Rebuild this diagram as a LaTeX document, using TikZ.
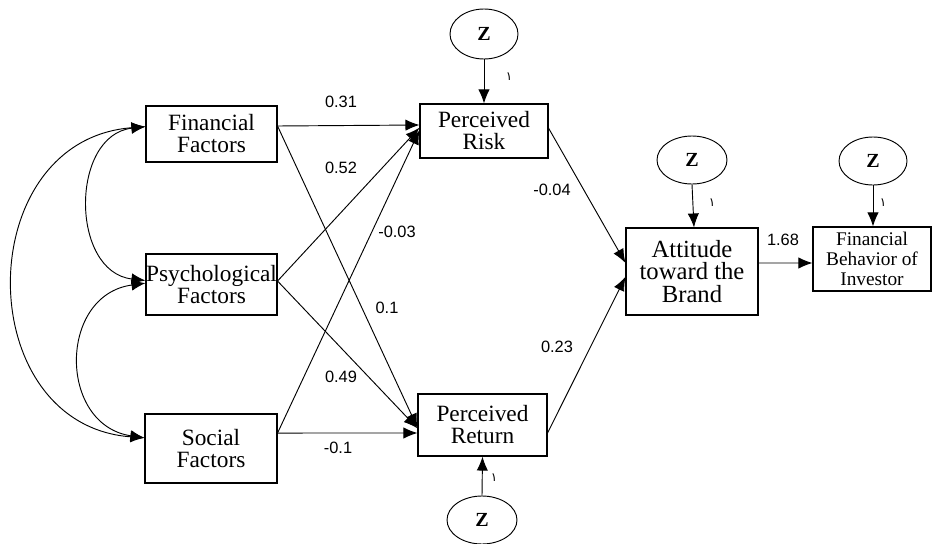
\documentclass[tikz,border=0pt]{standalone}
\usepackage{fontspec}
\setmainfont{Liberation Serif}
\newfontfamily\labfont{Liberation Sans}
\newfontfamily\arfont[Script=Arabic]{DejaVu Sans}
\usetikzlibrary{arrows.meta,shapes.geometric}
\TeXXeTstate=1
\begin{document}
\begin{tikzpicture}[x=0.75pt,y=-0.75pt,
  box/.style={draw,line width=0.8pt,inner sep=0pt,align=center},
  boxtext/.style={font=\fontsize{17.5}{16.5}\selectfont},
  zell/.style={draw,ellipse,line width=0.7pt,inner sep=0pt,font=\bfseries\fontsize{15}{15}\selectfont},
  conn/.style={line width=0.7pt},
  arr/.style={conn,-{Latex[length=10.5pt,width=8.5pt]}},
  darr/.style={conn,{Latex[length=10.5pt,width=8.5pt]}-{Latex[length=10.5pt,width=8.5pt]}},
  coef/.style={font=\labfont\fontsize{12.3}{12}\selectfont,inner sep=0pt},
  one/.style={font=\arfont\fontsize{9}{9}\selectfont,inner sep=0pt}]
\useasboundingbox (0,0) rectangle (932,543);
% boxes
\node[box,boxtext,minimum width=131*0.75pt,minimum height=56*0.75pt] (FF) at (211.5,134) {Financial\\Factors};
\node[box,boxtext,minimum width=131*0.75pt,minimum height=61*0.75pt] (PF) at (211.5,284.5) {Psychological\\Factors};
\node[box,boxtext,minimum width=132*0.75pt,minimum height=69*0.75pt] (SF) at (211,448.5) {Social\\Factors};
\node[box,boxtext,minimum width=128*0.75pt,minimum height=54*0.75pt] (PR) at (484,131) {Perceived\\Risk};
\node[box,boxtext,minimum width=129*0.75pt,minimum height=62*0.75pt] (PRet) at (482.5,425) {Perceived\\Return};
\node[box,font=\fontsize{18.5}{17}\selectfont,minimum width=132*0.75pt,minimum height=87*0.75pt] (Att) at (692,271.5) {Attitude\\toward the\\Brand};
\node[box,font=\fontsize{14.5}{15}\selectfont,minimum width=118*0.75pt,minimum height=64*0.75pt] (FB) at (872,259) {Financial\\Behavior of\\Investor};
% error ellipses
\node[zell,minimum width=68*0.75pt,minimum height=50*0.75pt] (Z1) at (484,34) {Z};
\node[zell,minimum width=70*0.75pt,minimum height=48*0.75pt] (Z2) at (692,160) {Z};
\node[zell,minimum width=68*0.75pt,minimum height=48*0.75pt] (Z3) at (873,161) {Z};
\node[zell,minimum width=70*0.75pt,minimum height=48*0.75pt] (Z4) at (482,520) {Z};
% error arrows
\draw[arr] (Z1.south) -- (PR.north);
\draw[arr] (Z2.south) -- ([xshift=1.5pt]Att.north);
\draw[arr] (Z3.south) -- (Z3.south |- FB.north);
\draw[arr] (Z4.north) -- (PRet.south);
% structural paths
\draw[arr] ([yshift=6pt]FF.east) -- ([yshift=4.5pt]PR.west);
\draw[arr] ([yshift=6pt]FF.east) -- ([yshift=-2pt]PRet.west);
\draw[arr] ([yshift=2.6pt]PF.east) -- ([yshift=2.5pt]PR.west);
\draw[arr] ([yshift=2.6pt]PF.east) -- ([yshift=-2.5pt]PRet.west);
\draw[arr] ([yshift=11.6pt]SF.east) -- ([yshift=0.5pt]PR.west);
\draw[arr] ([yshift=11.6pt]SF.east) -- ([yshift=-6pt]PRet.west);
\draw[arr] ([yshift=2.2pt]PR.east) -- ([yshift=6.4pt]Att.west);
\draw[arr] ([yshift=-6pt]PRet.east) -- ([yshift=-4pt]Att.west);
\draw[arr] ([yshift=6.4pt]Att.east) -- ([yshift=-3pt]FB.west);
% covariances
\draw[darr] ([yshift=5.5pt]FF.west) .. controls (70,135) and (70,272) .. ([yshift=3pt]PF.west);
\draw[darr] ([yshift=5.5pt]FF.west) .. controls (-30,140) and (-30,425) .. ([yshift=8pt]SF.west);
\draw[darr] ([yshift=1pt]PF.west) .. controls (58,295) and (58,425) .. ([yshift=8pt]SF.west);
% coefficients
\node[coef] (c1) at (341,102) {0.31};
\node[coef] (c2) at (341,168) {0.52};
\node[coef] (c3) at (397,232) {-0.03};
\node[coef] (c4) at (552,190) {-0.04};
\node[coef] (c5) at (387,308) {0.1};
\node[coef] (c6) at (341,377) {0.49};
\node[coef] (c7) at (338,448) {-0.1};
\node[coef] (c8) at (557,347) {0.23};
\node[coef] (c9) at (783,240) {1.68};
% unit loadings
\node[one] (o1) at (509,77) {\beginR ١\endR};
\node[one] (o2) at (712,203) {\beginR ١\endR};
\node[one] (o3) at (883,203) {\beginR ١\endR};
\node[one] (o4) at (494,478) {\beginR ١\endR};
\end{tikzpicture}
\end{document}
